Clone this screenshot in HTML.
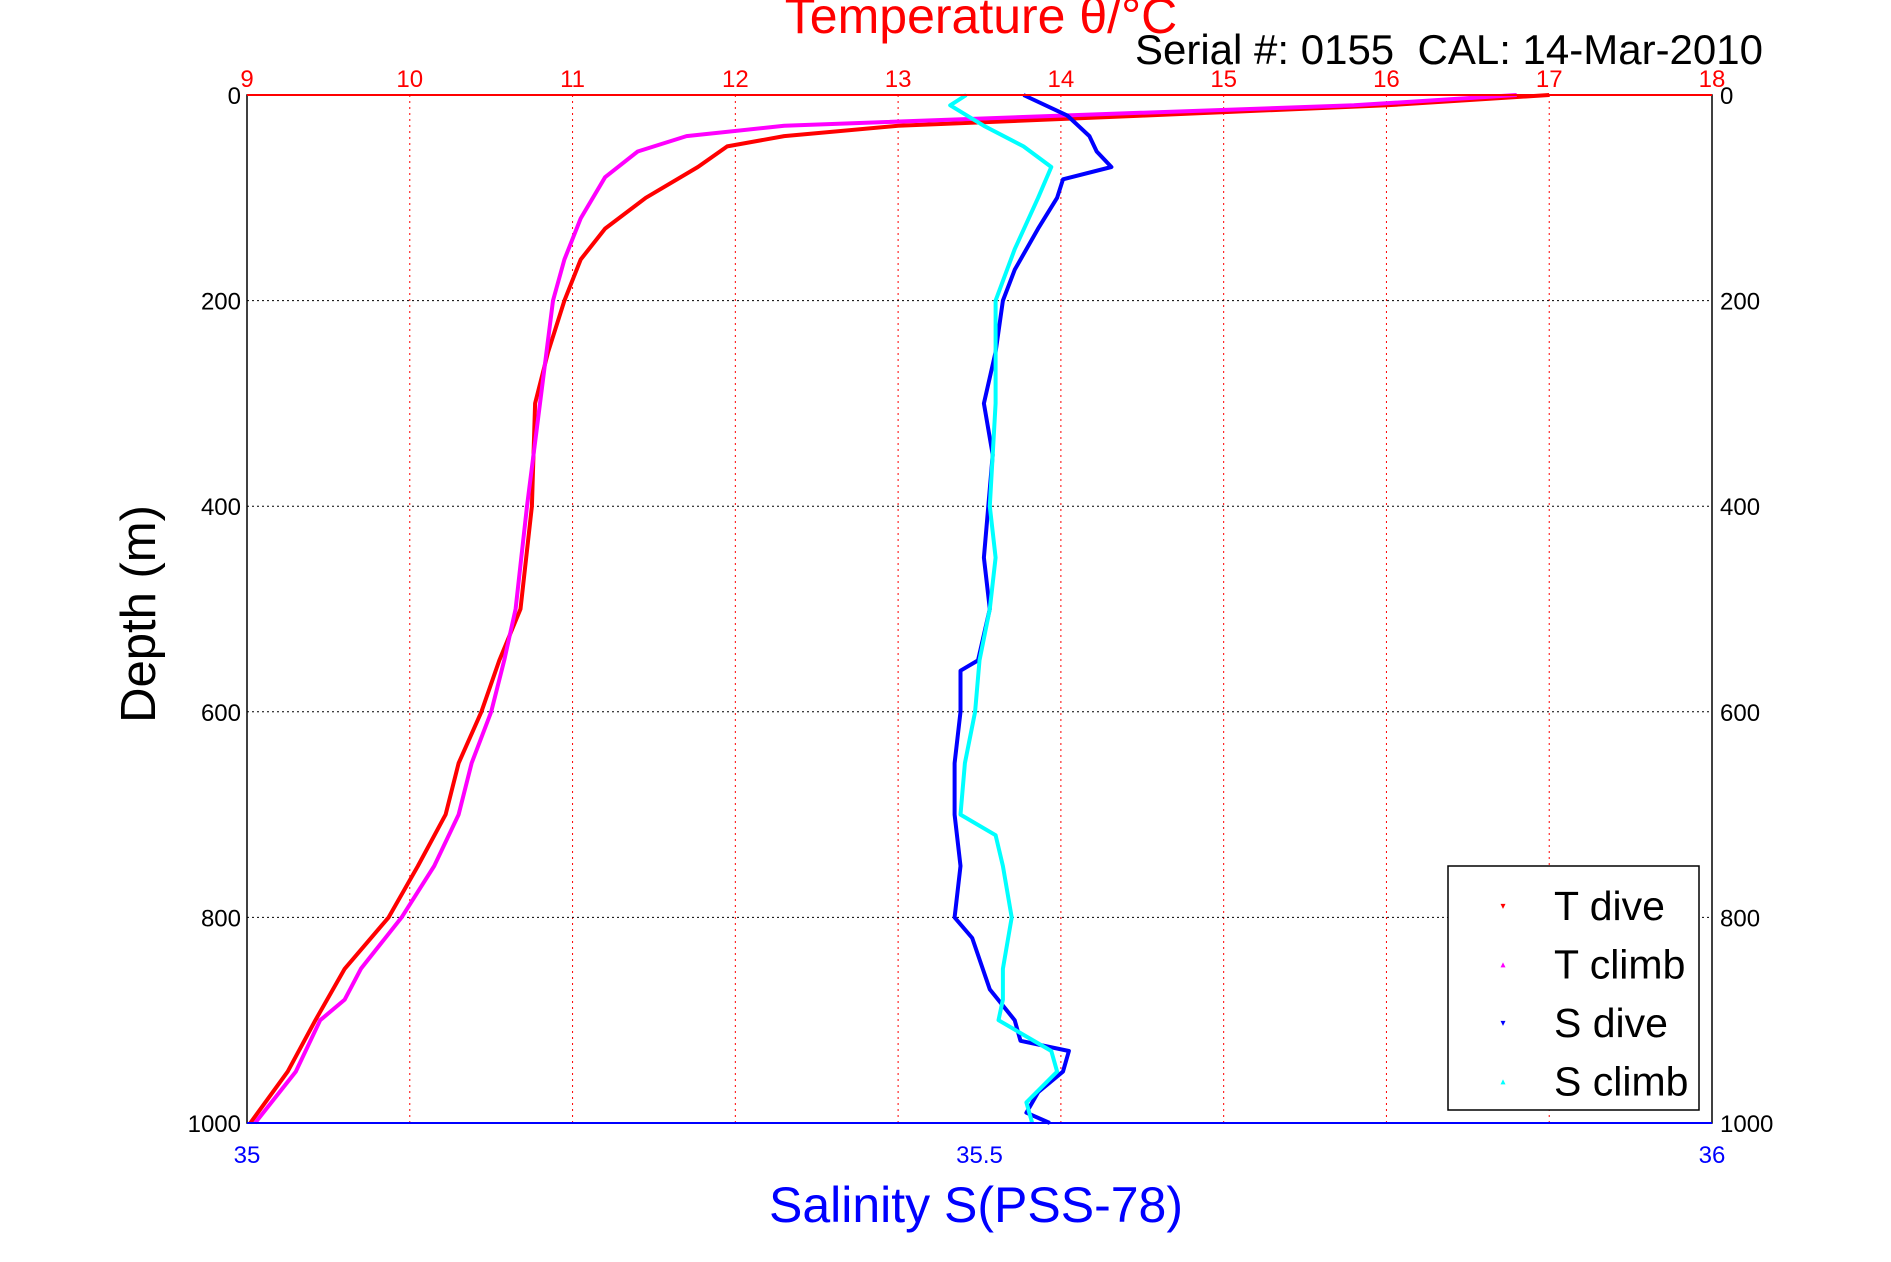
<!DOCTYPE html>
<html><head><meta charset="utf-8"><style>
body{margin:0;background:#fff;}
svg{display:block;font-family:"Liberation Sans",sans-serif;}
</style></head><body>
<svg id="chart" width="1891" height="1262" viewBox="0 0 1891 1262">
<g id="grid"></g>
<g id="series"></g>
<rect x="247" y="95" width="1465" height="1028" fill="none" stroke="#000" stroke-width="1.5"/>
<line x1="247" y1="95" x2="1712" y2="95" stroke="#f00" stroke-width="2"/>
<line x1="247" y1="1123" x2="1712" y2="1123" stroke="#00f" stroke-width="2"/>
<g id="labels"></g>
<text x="981" y="33" text-anchor="middle" font-size="50" fill="#f00">Temperature θ/°C</text>
<text x="1763" y="64" text-anchor="end" font-size="42" fill="#000" xml:space="preserve">Serial #: 0155  CAL: 14-Mar-2010</text>
<text x="976" y="1222" text-anchor="middle" font-size="50" fill="#00f">Salinity S(PSS-78)</text>
<text transform="translate(155,614) rotate(-90)" text-anchor="middle" font-size="49" fill="#000">Depth (m)</text>
<g>
<rect x="1448" y="866" width="251" height="244" fill="#fff" stroke="#000" stroke-width="1.5"/>
<g id="legend-items"></g>
</g>
</svg>
<script>
const depthTicks=[0,200,400,600,800,1000];
const tempTicks=[9,10,11,12,13,14,15,16,17,18];
const salTicks=[35,35.5,36];
const salTickLabels=["35","35.5","36"];
const tDiveDepth=[0,10,20,30,40,50,70,100,130,160,200,250,300,400,500,550,600,650,700,750,800,850,900,950,1000];
const tDiveTemp=[17.0,16.0,14.5,13.0,12.3,11.95,11.77,11.45,11.2,11.05,10.95,10.85,10.77,10.75,10.68,10.55,10.44,10.3,10.22,10.05,9.87,9.6,9.42,9.25,9.02];
const tClimbDepth=[0,10,20,30,40,55,80,120,160,200,300,400,500,550,600,650,700,750,800,850,880,900,950,1000];
const tClimbTemp=[16.8,15.8,14.0,12.3,11.7,11.4,11.2,11.05,10.95,10.88,10.8,10.72,10.65,10.58,10.5,10.38,10.3,10.15,9.95,9.7,9.6,9.45,9.3,9.05];
const sDiveDepth=[0,20,40,55,70,82,100,130,170,200,250,300,350,400,450,500,550,560,600,650,700,750,800,820,870,900,920,930,950,970,990,1000];
const sDiveSal=[35.53,35.56,35.575,35.58,35.59,35.557,35.553,35.54,35.524,35.516,35.511,35.503,35.509,35.506,35.503,35.507,35.499,35.487,35.487,35.483,35.483,35.487,35.483,35.495,35.507,35.524,35.528,35.561,35.557,35.54,35.532,35.548];
const sClimbDepth=[0,10,30,50,70,100,150,200,300,400,450,500,550,600,650,700,720,750,800,850,880,900,930,950,980,1000];
const sClimbSal=[35.491,35.48,35.503,35.53,35.549,35.54,35.524,35.511,35.511,35.507,35.511,35.507,35.5,35.497,35.49,35.487,35.511,35.516,35.522,35.516,35.516,35.513,35.549,35.553,35.532,35.536];
const legendNames=["T dive","T climb","S dive","S climb"];
const legendColors=["#f00","#f0f","#00f","#0ff"];

const L=247,R=1712,T=95,B=1123;
const xT=t=>L+(t-9)/9*(R-L);
const xS=s=>L+(s-35)*(R-L);
const yD=d=>T+d/1000*(B-T);
const NS="http://www.w3.org/2000/svg";
function mk(tag,attrs,parent){const e=document.createElementNS(NS,tag);for(const k in attrs)e.setAttribute(k,attrs[k]);parent.appendChild(e);return e;}
const grid=document.getElementById('grid'),labels=document.getElementById('labels'),series=document.getElementById('series');
tempTicks.forEach(t=>{
  const x=xT(t);
  const g=mk('line',{x1:x,y1:T,x2:x,y2:B,stroke:'#f00','stroke-width':1,'stroke-dasharray':'2,4'},grid);
  
  
  const tx=mk('text',{x:x,y:87,'text-anchor':'middle','font-size':24,fill:'#f00'},labels);
  tx.textContent=t;
  
  
});
depthTicks.forEach(d=>{
  const y=yD(d);
  if(d>0&&d<1000){const g=mk('line',{x1:L,y1:y,x2:R,y2:y,stroke:'#000','stroke-width':1,'stroke-dasharray':'2,3'},grid);
  
  }
  const a=mk('text',{x:241,y:y+9,'text-anchor':'end','font-size':24,fill:'#000'},labels);
  a.textContent=d;
  
  
  const b=mk('text',{x:1720,y:y+9,'text-anchor':'start','font-size':24,fill:'#000'},labels);
  b.textContent=d;
  
  
});
salTicks.forEach((s,i)=>{
  const a=mk('text',{x:xS(s),y:1163,'text-anchor':'middle','font-size':24,fill:'#00f'},labels);
  a.textContent=salTickLabels[i];
  
  
});
function drawSeries(ds,vs,xf,color,name){
  const pts=ds.map((d,i)=>xf(vs[i]).toFixed(1)+','+yD(d).toFixed(1)).join(' ');
  const p=mk('polyline',{points:pts,fill:'none',stroke:color,'stroke-width':4,'stroke-linejoin':'round'},series);
  
  
}
drawSeries(tDiveDepth,tDiveTemp,xT,'#f00','t-dive-series');
drawSeries(tClimbDepth,tClimbTemp,xT,'#f0f','t-climb-series');
drawSeries(sDiveDepth,sDiveSal,xS,'#00f','s-dive-series');
drawSeries(sClimbDepth,sClimbSal,xS,'#0ff','s-climb-series');
const li=document.getElementById('legend-items');
legendNames.forEach((n,i)=>{
  const y=906+i*58.5;
  const m=mk('text',{x:1503,y:y+3,'text-anchor':'middle','font-size':10,fill:legendColors[i]},li);
  m.textContent=i%2==0?'▾':'▴';
  
  
  const t=mk('text',{x:1554,y:y+14,'font-size':41,fill:'#000'},li);
  t.textContent=n;
  
  
});
</script>
</body></html>
